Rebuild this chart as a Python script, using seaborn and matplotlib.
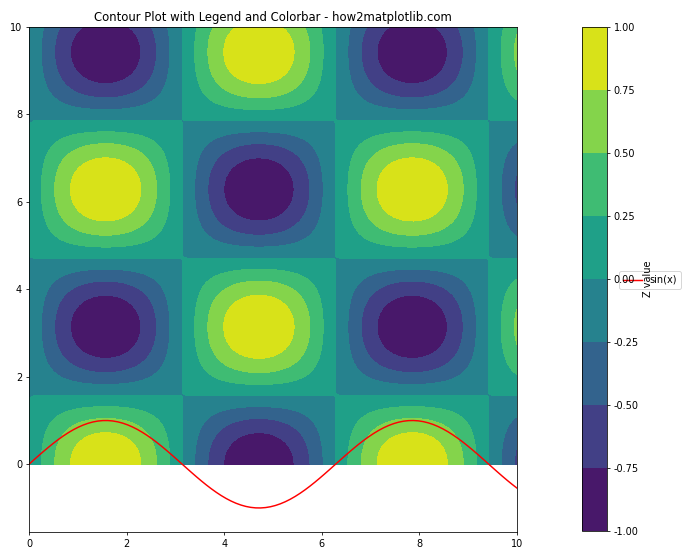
import numpy as np
import matplotlib
matplotlib.use("Agg")
import matplotlib.pyplot as plt
import seaborn as sns

# grid and surface for the filled contours
x = np.linspace(0, 10, 100)
y = np.linspace(0, 10, 100)
levels = [-1.0, -0.75, -0.5, -0.25, 0.0, 0.25, 0.5, 0.75, 1.0]
cbar_ticks = [-1.0, -0.75, -0.5, -0.25, 0.0, 0.25, 0.5, 0.75, 1.0]

X, Y = np.meshgrid(x, y)
Z = np.sin(X) * np.cos(Y)

# sine curve drawn on top
line_y = np.sin(x)

fig = plt.figure(figsize=(10, 8), dpi=70)
ax = fig.add_axes([0.0414, 0.05, 0.697, 0.902])
cax = fig.add_axes([0.831, 0.052, 0.0357, 0.90])

cs = ax.contourf(X, Y, Z, levels=levels, cmap="viridis")
sns.lineplot(x=x, y=line_y, color="red", label="sin(x)", ax=ax, legend=False)
ax.set_xlim(0, 10)
ax.set_title("Contour Plot with Legend and Colorbar - how2matplotlib.com")

cbar = fig.colorbar(cs, cax=cax, ticks=cbar_ticks)
cbar.set_label("Z value")
cbar.ax.yaxis.set_major_formatter(matplotlib.ticker.FormatStrFormatter("%.2f"))

# legend belongs to the main axes, so the colorbar text is drawn over it
handles, labels = ax.get_legend_handles_labels()
ax.legend(handles, labels, loc="center left", bbox_to_anchor=(0.877, 0.5),
          bbox_transform=fig.transFigure)

fig.savefig("out.png", dpi=70)
